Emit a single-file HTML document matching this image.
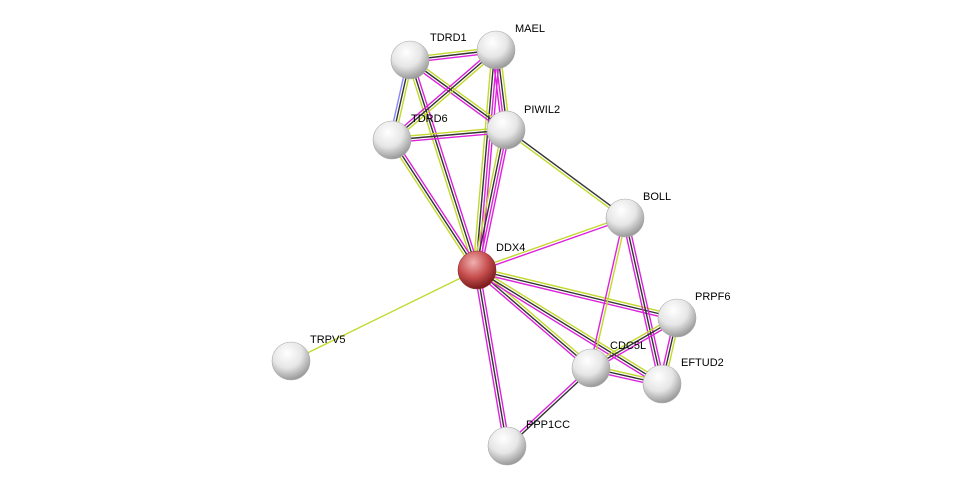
<!DOCTYPE html>
<html><head><meta charset="utf-8"><style>
html,body{margin:0;padding:0;background:#fff;width:976px;height:491px;overflow:hidden}
svg text{font-family:"Liberation Sans",sans-serif;font-size:11px;fill:#000}
</style></head><body>
<svg id="s" width="976" height="491" xmlns="http://www.w3.org/2000/svg">
<defs>
<radialGradient id="g" cx="40%" cy="30%" r="70%">
<stop offset="0" stop-color="#ffffff"/><stop offset="0.55" stop-color="#e6e6e6"/><stop offset="1" stop-color="#9a9a9a"/></radialGradient>
<radialGradient id="r" cx="40%" cy="30%" r="70%">
<stop offset="0" stop-color="#f0b0b0"/><stop offset="0.55" stop-color="#c85050"/><stop offset="1" stop-color="#7a1a1a"/></radialGradient>
</defs>
<g id="edges"></g>
<g id="nodes"></g>
</svg>
<script>
var N={TDRD1:[410,60],MAEL:[496,50],TDRD6:[392,140],PIWIL2:[506,130],BOLL:[625,218],DDX4:[477,270],PRPF6:[677,318],TRPV5:[291,361],CDC5L:[591,368],EFTUD2:[662,384],PPP1CC:[507,446]};
var L={TDRD1:[430,41],MAEL:[515,32],TDRD6:[411,122],PIWIL2:[524,113],BOLL:[643,200],DDX4:[496,251],PRPF6:[695,300],TRPV5:[310,343],CDC5L:[610,349],EFTUD2:[681,366],PPP1CC:[526,428]};
var Y="#c2d92c",M="#dd22dd",K="#333333",B="#8888ff";
var E=[["DDX4","TDRD1",[Y,K,M]],["DDX4","MAEL",[Y,K,M,M]],["DDX4","TDRD6",[Y,K,M]],["DDX4","PIWIL2",[Y,K,M,M]],
["DDX4","BOLL",[Y,M]],["DDX4","PRPF6",[Y,K,M]],["DDX4","CDC5L",[Y,K,M]],["DDX4","EFTUD2",[Y,K,M]],
["DDX4","PPP1CC",[M,K,M]],["DDX4","TRPV5",[Y]],["TDRD1","MAEL",[Y,K,M]],["TDRD1","TDRD6",[Y,K,B]],
["TDRD1","PIWIL2",[Y,K,M]],["MAEL","TDRD6",[Y,K,M]],["MAEL","PIWIL2",[Y,K,M,M]],["TDRD6","PIWIL2",[Y,K,M]],
["PIWIL2","BOLL",[K,Y]],["BOLL","CDC5L",[Y,M]],["BOLL","EFTUD2",[M,K,M]],["CDC5L","PRPF6",[Y,K,M]],
["CDC5L","EFTUD2",[Y,K,M]],["PRPF6","EFTUD2",[Y,K,M]],["CDC5L","PPP1CC",[K,M]]];
var ns="http://www.w3.org/2000/svg",ge=document.getElementById("edges"),gn=document.getElementById("nodes");
E.forEach(function(e){var a=N[e[0]],b=N[e[1]],dx=b[0]-a[0],dy=b[1]-a[1],l=Math.hypot(dx,dy),px=-dy/l,py=dx/l,n=e[2].length;
e[2].forEach(function(c,i){var o=(i-(n-1)/2)*2.6;var ln=document.createElementNS(ns,"line");
ln.setAttribute("x1",a[0]+px*o);ln.setAttribute("y1",a[1]+py*o);ln.setAttribute("x2",b[0]+px*o);ln.setAttribute("y2",b[1]+py*o);
ln.setAttribute("stroke",c);ln.setAttribute("stroke-width","1.4");ge.appendChild(ln);});});
for(var k in N){var c=document.createElementNS(ns,"circle");c.setAttribute("cx",N[k][0]);c.setAttribute("cy",N[k][1]);c.setAttribute("r",19);
c.setAttribute("fill",k=="DDX4"?"url(#r)":"url(#g)");c.setAttribute("stroke",k=="DDX4"?"#8a3030":"#aaaaaa");c.setAttribute("stroke-width","0.6");gn.appendChild(c);
var t=document.createElementNS(ns,"text");t.setAttribute("x",L[k][0]);t.setAttribute("y",L[k][1]);t.textContent=k;gn.appendChild(t);}
</script>
</body></html>
